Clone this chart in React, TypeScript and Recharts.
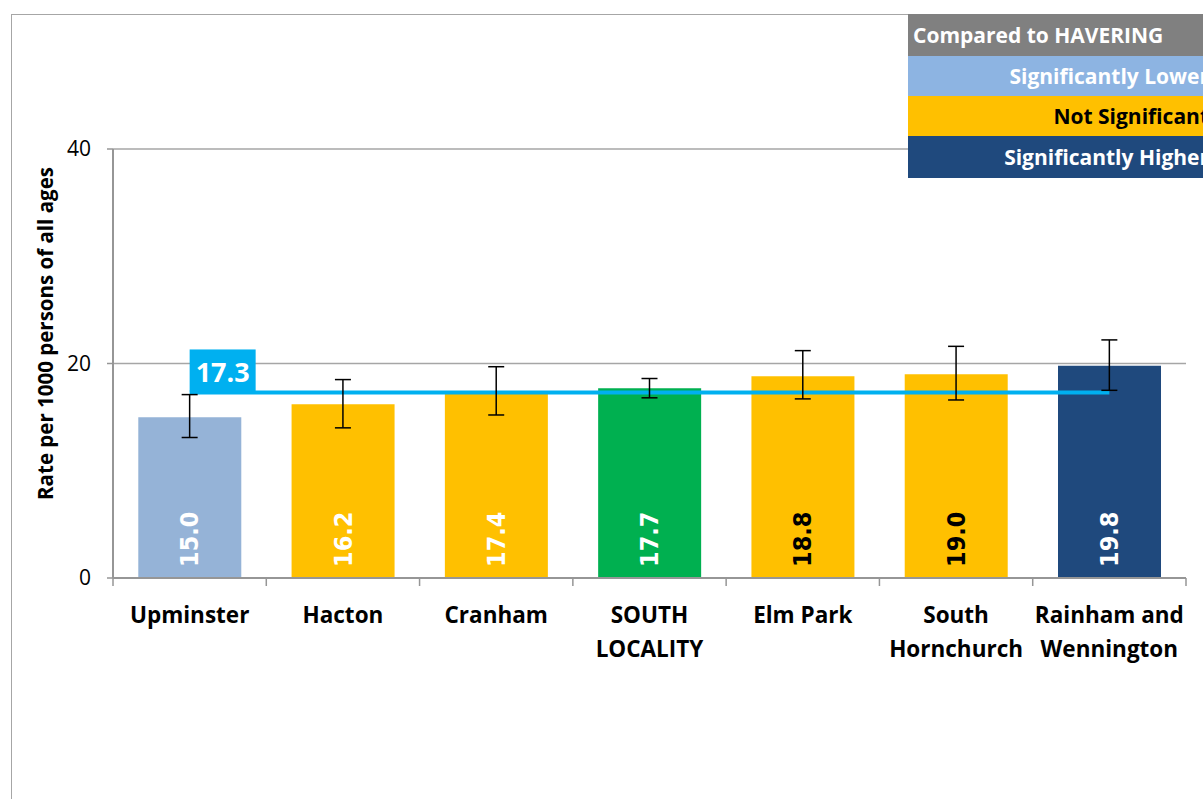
import React from 'react';
import {
  ComposedChart, Bar, Line, Scatter, XAxis, YAxis, CartesianGrid, ErrorBar, Cell, LabelList,
} from 'recharts';

// Havering wards vs locality, rate per 1000 persons of all ages
const wards = ['Upminster', 'Hacton', 'Cranham', 'SOUTH\nLOCALITY', 'Elm Park', 'South\nHornchurch', 'Rainham and\nWennington'];
const rates = [15.0, 16.2, 17.4, 17.7, 18.8, 19.0, 19.8];
const ciLower = [13.1, 14.0, 15.2, 16.8, 16.7, 16.6, 17.5];
const ciUpper = [17.1, 18.5, 19.7, 18.6, 21.2, 21.6, 22.2];
const barColors = ['#95B3D7', '#FFC000', '#FFC000', '#00B050', '#FFC000', '#FFC000', '#1F497D'];
const labelColors = ['#FFFFFF', '#FFFFFF', '#FFFFFF', '#FFFFFF', '#000000', '#000000', '#FFFFFF'];
const haveringRate = 17.3;
const yTicks = [0, 20, 40];

const legendRows = [
  { text: 'Compared to HAVERING', bg: '#808080', color: '#FFFFFF', align: 'left' as const, h: 42 },
  { text: 'Significantly Lower', bg: '#8DB4E2', color: '#FFFFFF', align: 'right' as const, h: 40 },
  { text: 'Not Significant', bg: '#FFC000', color: '#000000', align: 'right' as const, h: 40 },
  { text: 'Significantly Higher', bg: '#1F497D', color: '#FFFFFF', align: 'right' as const, h: 42 },
];

const W = 1203;
const H = 799;
const X_AXIS_H = 30;
const MARGIN = { top: 149, right: 17, bottom: 221 - X_AXIS_H, left: 0 };
const Y_AXIS_W = 113;
const BAND = (W - MARGIN.left - MARGIN.right - Y_AXIS_W) / wards.length;
const FONT = "'Open Sans', 'Noto Sans', sans-serif";

const data = wards.map((name, i) => ({
  name,
  rate: rates[i],
  err: [rates[i] - ciLower[i], ciUpper[i] - rates[i]],
  avg: haveringRate,
}));

function XTick(props: any) {
  const { x, y, payload, index } = props;
  const lines = String(payload.value).split('\n');
  return (
    <g>
      <line x1={x - BAND / 2} x2={x - BAND / 2} y1={y} y2={y + 8} stroke="#969696" strokeWidth={1.5} />
      {index === wards.length - 1 && (
        <line x1={x + BAND / 2} x2={x + BAND / 2} y1={y} y2={y + 8} stroke="#969696" strokeWidth={1.5} />
      )}
      <text x={x} y={y + 45} textAnchor="middle" fontFamily={FONT} fontWeight={700} fontSize={22.5} fill="#000">
        {lines.map((l, i) => (
          <tspan key={i} x={x} dy={i === 0 ? 0 : 34}>{l}</tspan>
        ))}
      </text>
    </g>
  );
}

function BarValue(props: any) {
  const { x, y, width, height, value, index } = props;
  const cx = x + width / 2;
  const by = y + height - 11;
  return (
    <text
      x={cx}
      y={by}
      transform={`rotate(-90 ${cx} ${by})`}
      textAnchor="start"
      dominantBaseline="central"
      fontFamily="'DejaVu Sans', sans-serif"
      fontStretch="condensed"
      fontWeight={700}
      fontSize={25}
      fill={labelColors[index]}
    >
      {Number(value).toFixed(1)}
    </text>
  );
}

function AvgLabel(props: any) {
  const { x, y, value, index } = props;
  if (index !== 0) return null;
  return (
    <g>
      <rect x={x} y={y - 43} width={66} height={42} fill="#00B0F0" />
      <text x={x + 33} y={y - 21} textAnchor="middle" dominantBaseline="central" fontFamily={FONT} fontWeight={700} fontSize={27} fill="#FFF">
        {Number(value).toFixed(1)}
      </text>
    </g>
  );
}

function YTitle(props: any) {
  const vb = props.viewBox;
  const cx = 45;
  const cy = vb.y + vb.height / 2 - 30;
  return (
    <text x={cx} y={cy} transform={`rotate(-90 ${cx} ${cy})`} textAnchor="middle" dominantBaseline="central" fontFamily={FONT} fontWeight={700} fontSize={20.5} fill="#000">
      Rate per 1000 persons  of all ages
    </text>
  );
}

export default function App() {
  return (
    <div style={{ position: 'absolute', left: 0, top: 0, width: W, height: H, background: '#fff', overflow: 'hidden' }}>
      <div style={{ position: 'absolute', left: 11, top: 14, width: W, height: H, borderLeft: '1.5px solid #A6A6A6', borderTop: '1.5px solid #A6A6A6' }} />
      <div style={{ position: 'absolute', left: 0, top: 0 }}>
        <ComposedChart width={W} height={H} data={data} margin={MARGIN} barCategoryGap="16.5%">
          <CartesianGrid vertical={false} stroke="#A6A6A6" strokeWidth={1.5} />
          <XAxis
            dataKey="name"
            height={X_AXIS_H}
            interval={0}
            tickSize={0}
            tickMargin={0}
            tickLine={false}
            axisLine={{ stroke: '#969696', strokeWidth: 2 }}
            tick={<XTick />}
          />
          <YAxis
            width={Y_AXIS_W}
            domain={[0, 40]}
            ticks={yTicks}
            tickSize={6}
            tickMargin={16}
            axisLine={{ stroke: '#969696', strokeWidth: 2 }}
            tickLine={{ stroke: '#969696', strokeWidth: 1.5 }}
            tick={{ fontSize: 21, fontFamily: FONT, fill: '#000' }}
            label={<YTitle />}
          />
          <Bar dataKey="rate" isAnimationActive={false}>
            {data.map((d, i) => (
              <Cell key={d.name} fill={barColors[i]} />
            ))}
            <LabelList dataKey="rate" content={<BarValue />} />
          </Bar>
          <Line
            dataKey="avg"
            stroke="#00B0F0"
            strokeWidth={4}
            dot={false}
            activeDot={false}
            isAnimationActive={false}
          >
            <LabelList dataKey="avg" content={<AvgLabel />} />
          </Line>
          <Scatter dataKey="rate" shape={() => null} isAnimationActive={false}>
            <ErrorBar dataKey="err" width={8} stroke="#000" strokeWidth={1.5} direction="y" />
          </Scatter>
        </ComposedChart>
      </div>
      <div style={{ position: 'absolute', left: 908, top: 14, width: W - 908, overflow: 'hidden' }}>
        {legendRows.map((r) => (
          <div key={r.text} style={{ height: r.h, background: r.bg, position: 'relative' }}>
            <div
              style={{
                position: 'absolute',
                left: 5,
                width: 296,
                top: 0,
                height: r.h,
                lineHeight: `${r.h}px`,
                textAlign: r.align,
                color: r.color,
                fontFamily: FONT,
                fontWeight: 700,
                fontSize: 21,
                whiteSpace: 'nowrap',
              }}
            >
              {r.text}
            </div>
          </div>
        ))}
      </div>
    </div>
  );
}
